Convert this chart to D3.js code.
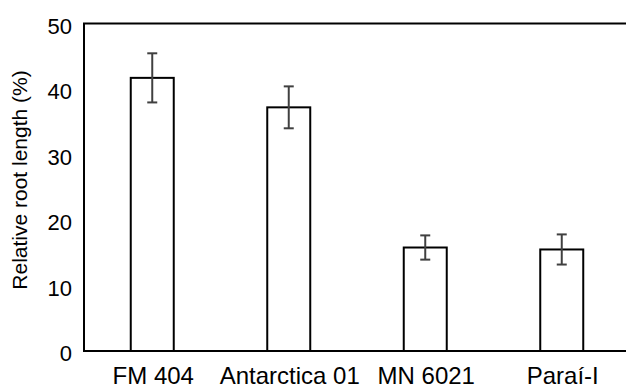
<!DOCTYPE html>
<html>
<head>
<meta charset="utf-8">
<script src="https://cdn.jsdelivr.net/npm/d3@7"></script>
<style>
  body { margin: 0; background: #fff; }
  text { font-family: "Liberation Sans", Arial, sans-serif; fill: #000; }
</style>
</head>
<body>
<div id="chart"></div>
<script>
// data
var cultivars = ["FM 404", "Antarctica 01", "MN 6021", "Paraí-I"];
var rootLength = [41.7, 37.2, 15.8, 15.5];
var errors = [3.75, 3.2, 1.85, 2.3];
var yTicks = [0, 10, 20, 30, 40, 50];

var W = 626, H = 390;
var margin = {top: 23.5, left: 84, bottom: 39},
    plotRight = 630;

var svg = d3.select("#chart")
  .append("svg")
  .attr("width", W)
  .attr("height", H);

var x = d3.scaleBand()
  .domain(cultivars)
  .range([margin.left, plotRight])
  .paddingInner(0.685)
  .paddingOuter(0.3425);

var y = d3.scaleLinear()
  .domain([0, 50])
  .range([H - margin.bottom, margin.top]);

// frame round the plot (right side runs off the picture)
svg.append("rect")
  .attr("x", margin.left)
  .attr("y", y(50))
  .attr("width", plotRight - margin.left)
  .attr("height", y(0) - y(50))
  .attr("fill", "none")
  .attr("stroke", "#000")
  .attr("stroke-width", 2);

// y axis labels
svg.append("g")
  .attr("transform", "translate(" + margin.left + ",0)")
  .call(d3.axisLeft(y).tickValues(yTicks).tickSize(0).tickPadding(12))
  .call(g => g.select(".domain").remove())
  .selectAll("text")
  .attr("dy", "0.45em")
  .style("font-size", "22px")
  .style("font-family", "Liberation Sans, Arial, sans-serif");

// bars
var data = cultivars.map(function(c, i) { return {name: c, v: rootLength[i], e: errors[i]}; });

svg.selectAll(".bar")
  .data(data)
  .join("rect")
  .attr("class", "bar")
  .attr("x", d => x(d.name))
  .attr("y", d => y(d.v))
  .attr("width", x.bandwidth())
  .attr("height", d => y(0) - y(d.v))
  .attr("fill", "#fff")
  .attr("stroke", "#000")
  .attr("stroke-width", 2);

// error bars
var err = svg.selectAll(".err")
  .data(data)
  .join("g")
  .attr("class", "err")
  .attr("stroke", "#404040")
  .attr("stroke-width", 2);
var cap = 5;
err.append("line")
  .attr("x1", d => x(d.name) + x.bandwidth() / 2)
  .attr("x2", d => x(d.name) + x.bandwidth() / 2)
  .attr("y1", d => y(d.v + d.e))
  .attr("y2", d => y(d.v - d.e));
err.append("line")
  .attr("x1", d => x(d.name) + x.bandwidth() / 2 - cap)
  .attr("x2", d => x(d.name) + x.bandwidth() / 2 + cap)
  .attr("y1", d => y(d.v + d.e))
  .attr("y2", d => y(d.v + d.e));
err.append("line")
  .attr("x1", d => x(d.name) + x.bandwidth() / 2 - cap)
  .attr("x2", d => x(d.name) + x.bandwidth() / 2 + cap)
  .attr("y1", d => y(d.v - d.e))
  .attr("y2", d => y(d.v - d.e));

// bottom axis line drawn again on top of the bars
svg.append("line")
  .attr("x1", margin.left).attr("x2", W)
  .attr("y1", y(0)).attr("y2", y(0))
  .attr("stroke", "#000").attr("stroke-width", 2);

// x labels
svg.selectAll(".xlab")
  .data(cultivars)
  .join("text")
  .attr("class", "xlab")
  .attr("x", d => x(d) + x.bandwidth() / 2 + 1)
  .attr("y", 384)
  .attr("text-anchor", "middle")
  .style("font-size", "24px")
  .text(d => d);

// y axis title
svg.append("text")
  .attr("transform", "translate(27," + 180 + ") rotate(-90)")
  .attr("text-anchor", "middle")
  .style("font-size", "21px")
  .text("Relative root length (%)");
</script>
</body>
</html>
